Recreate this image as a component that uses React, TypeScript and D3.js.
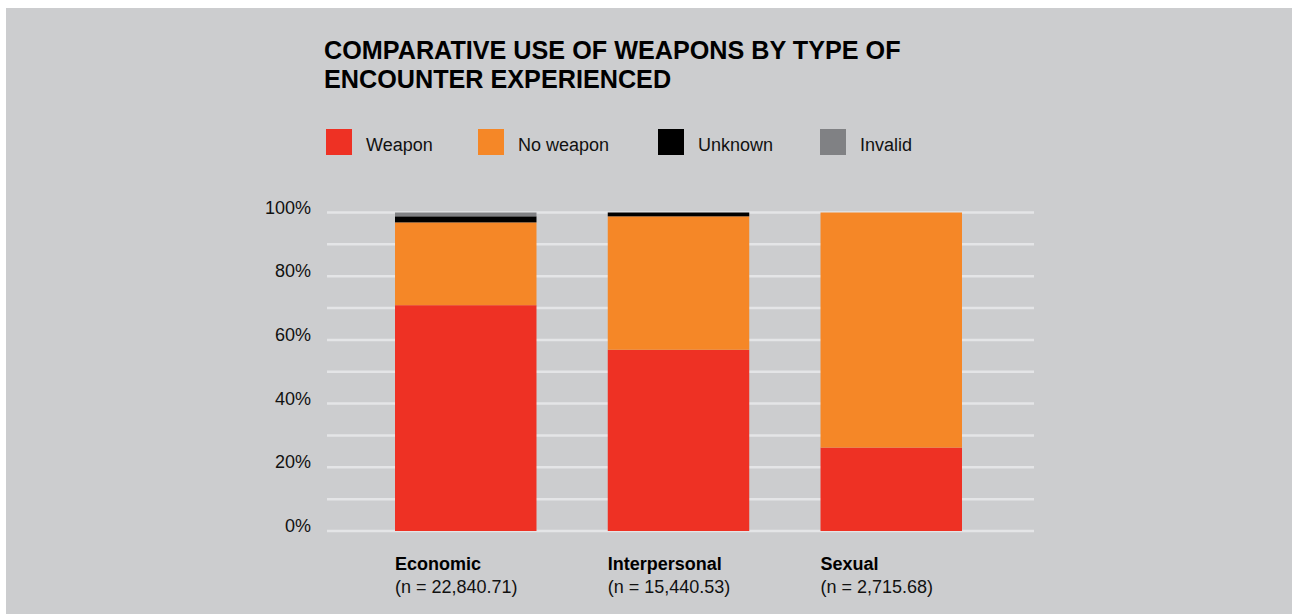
import React from "react";
import * as d3 from "d3";

const categories = ["Economic", "Interpersonal", "Sexual"];
const sampleSizes = ["(n = 22,840.71)", "(n = 15,440.53)", "(n = 2,715.68)"];
const seriesNames = ["Weapon", "No weapon", "Unknown", "Invalid"];
const weapon = [70.9, 56.9, 26.2];
const noWeapon = [26.0, 41.9, 73.8];
const unknown = [1.9, 1.2, 0];
const invalid = [1.2, 0, 0];
const yTicks = [0, 20, 40, 60, 80, 100];
const gridTicks = [0, 10, 20, 30, 40, 50, 60, 70, 80, 90, 100];
const colors = ["#ee3124", "#f58727", "#000000", "#808184"];

const W = 1292;
const H = 614;
const FONT = "'Liberation Sans', Arial, Helvetica, sans-serif";

export default function App() {
  const rows = categories.map((c, i) => ({
    category: c,
    Weapon: weapon[i],
    "No weapon": noWeapon[i],
    Unknown: unknown[i],
    Invalid: invalid[i],
  }));
  const stack = d3.stack<any>().keys(seriesNames);
  const layers = stack(rows);

  const x = d3
    .scaleBand<string>()
    .domain(categories)
    .range([395, 962])
    .paddingInner(0.335)
    .paddingOuter(0);
  const y = d3.scaleLinear().domain([0, 100]).range([531, 212.5]);

  const legendX = [326, 478, 658, 820];

  return (
    <div style={{ position: "absolute", left: 0, top: 0 }}>
      <svg width={W} height={H} style={{ display: "block" }} fontFamily={FONT}>
        <rect x={6} y={8} width={W - 6} height={H - 8} fill="#cccdcf" />
        <text x={324} y={59} fontSize={25.2} fontWeight="bold" fill="#000">
          COMPARATIVE USE OF WEAPONS BY TYPE OF
        </text>
        <text x={324} y={88} fontSize={25.2} fontWeight="bold" fill="#000">
          ENCOUNTER EXPERIENCED
        </text>
        {seriesNames.map((s, i) => (
          <g key={s}>
            <rect x={legendX[i]} y={129} width={26} height={26} fill={colors[i]} />
            <text x={legendX[i] + 40} y={150.5} fontSize={18} fill="#111">
              {s}
            </text>
          </g>
        ))}
        {gridTicks.map((t) => (
          <line
            key={t}
            x1={327}
            x2={1034}
            y1={y(t)}
            y2={y(t)}
            stroke="#e4e5e7"
            strokeWidth={2.5}
          />
        ))}
        {yTicks.map((t) => (
          <text key={t} x={311} y={y(t) + 1} fontSize={18} textAnchor="end" fill="#111">
            {t}%
          </text>
        ))}
        {layers.map((layer, li) => (
          <g key={layer.key} fill={colors[li]}>
            {layer.map((d, i) => {
              const h = y(d[0]) - y(d[1]);
              if (h <= 0) return null;
              return (
                <rect
                  key={i}
                  x={x(categories[i])}
                  y={y(d[1])}
                  width={x.bandwidth()}
                  height={h}
                />
              );
            })}
          </g>
        ))}
        {categories.map((c, i) => (
          <g key={c}>
            <text x={x(c)} y={570} fontSize={18} fontWeight="bold" fill="#000">
              {c}
            </text>
            <text x={x(c)} y={593} fontSize={18} fill="#111">
              {sampleSizes[i]}
            </text>
          </g>
        ))}
      </svg>
    </div>
  );
}
